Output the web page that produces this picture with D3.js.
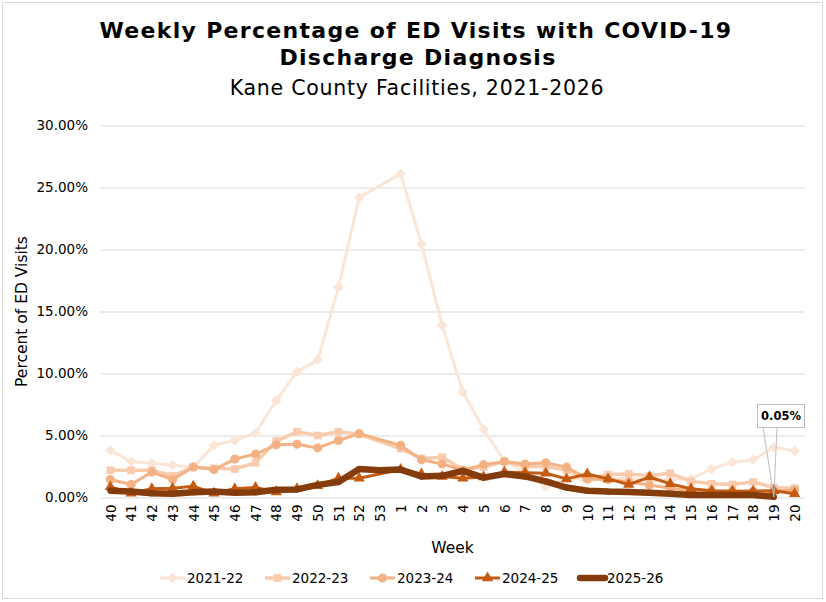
<!DOCTYPE html>
<html>
<head>
<meta charset="utf-8">
<script src="https://cdn.jsdelivr.net/npm/d3@7"></script>
<style>
  html, body { margin: 0; padding: 0; background: #fff; }
  #chart { width: 826px; height: 602px; }
  text { font-family: "DejaVu Sans", Verdana, sans-serif; fill: #000; }
</style>
</head>
<body>
<div id="chart"></div>
<script>
// week labels along the x axis (season runs week 40 -> week 20)
const weeks = ["40","41","42","43","44","45","46","47","48","49","50","51","52","53",
  "1","2","3","4","5","6","7","8","9","10","11","12","13","14","15","16","17","18","19","20"];

const yTicks = [0, 5, 10, 15, 20, 25, 30];

const seasons = ["2021-22", "2022-23", "2023-24", "2024-25", "2025-26"];

// percent of ED visits, null = no value for that week
const s2122 = [3.8, 2.9, 2.77, 2.6, 2.45, 4.22, 4.6, 5.2, 7.82, 10.15, 11.1, 16.95, 24.2, null,
  26.1, 20.45, 13.9, 8.5, 5.5, 2.95, 2.0, 0.86, 1.6, 1.4, 1.5, 1.6, 1.3, 1.5, 1.5, 2.3, 2.85, 3.05, 4.05, 3.75];
const s2223 = [2.2, 2.2, 2.2, 1.75, 2.45, 2.35, 2.3, 2.8, 4.55, 5.3, 5.0, 5.3, 5.1, null,
  3.95, 3.15, 3.25, 2.25, 2.45, 2.9, 2.5, 2.5, 2.2, 1.5, 1.85, 1.9, 1.75, 1.95, 1.3, 1.1, 1.05, 1.25, 0.8, 0.75];
const s2324 = [1.45, 1.05, 2.05, 1.45, 2.45, 2.25, 3.1, 3.5, 4.25, 4.3, 4.0, 4.6, 5.15, null,
  4.2, 3.05, 2.7, 2.2, 2.65, 2.9, 2.7, 2.8, 2.45, 1.5, 1.45, 1.25, 1.0, 0.75, 0.55, 0.5, 0.5, 0.5, 0.55, 0.6];
const s2425 = [0.85, 0.35, 0.7, 0.75, 0.9, 0.35, 0.7, 0.8, 0.45, 0.7, 0.95, 1.55, 1.55, null,
  2.25, 1.9, 1.7, 1.55, 1.65, 2.05, 2.0, 1.95, 1.5, 1.9, 1.5, 1.05, 1.65, 1.1, 0.7, 0.55, 0.5, 0.5, 0.55, 0.3];
const s2526 = [0.55, 0.48, 0.35, 0.3, 0.43, 0.48, 0.38, 0.43, 0.62, 0.65, 1.02, 1.25, 2.3, 2.2,
  2.25, 1.7, 1.75, 2.15, 1.6, 1.9, 1.7, 1.3, 0.8, 0.55, 0.48, 0.45, 0.38, 0.3, 0.2, 0.2, 0.2, 0.2, 0.05, null];

const seriesValues = [s2122, s2223, s2324, s2425, s2526];

const colors = ["#FBE5D6", "#F8CBAD", "#F4B183", "#C55A11", "#843C0C"];
const strokeW = [3, 3.5, 3, 3, 6.5];
const markers = [
  { type: d3.symbolDiamond2, size: 70 },
  { type: d3.symbolSquare2, size: 75 },
  { type: d3.symbolCircle, size: 65 },
  { type: d3.symbolTriangle, size: 55 },
  { type: d3.symbolCircle, size: 30 }
];

const width = 826, height = 602;
const margin = { top: 125.5, right: 21, bottom: 104.5, left: 100 };

const svg = d3.select("#chart").append("svg")
  .attr("width", width).attr("height", height);

// outer chart frame
svg.append("rect")
  .attr("x", 2.5).attr("y", 2.5)
  .attr("width", width - 6).attr("height", height - 6)
  .attr("fill", "#fff").attr("stroke", "#d9d9d9");

const x = d3.scalePoint()
  .domain(weeks)
  .range([margin.left, width - margin.right])
  .padding(0.5);

const y = d3.scaleLinear()
  .domain([0, 30])
  .range([height - margin.bottom, margin.top]);

// titles
svg.append("text")
  .attr("x", 416).attr("y", 38)
  .attr("text-anchor", "middle")
  .style("font-weight", "bold").style("font-size", "22px")
  .style("letter-spacing", "1.3px")
  .text("Weekly Percentage of ED Visits with COVID-19");
svg.append("text")
  .attr("x", 418).attr("y", 65)
  .attr("text-anchor", "middle")
  .style("font-weight", "bold").style("font-size", "22px")
  .style("letter-spacing", "1.3px")
  .text("Discharge Diagnosis");
svg.append("text")
  .attr("x", 417).attr("y", 95)
  .attr("text-anchor", "middle")
  .style("font-size", "20.5px")
  .style("letter-spacing", "0.75px")
  .text("Kane County Facilities, 2021-2026");

// y gridlines + labels
const yAxis = svg.append("g")
  .attr("transform", `translate(${margin.left},0)`)
  .call(d3.axisLeft(y).tickValues(yTicks)
    .tickSize(-(width - margin.left - margin.right))
    .tickPadding(12)
    .tickFormat(d => d.toFixed(2) + "%"));
yAxis.select(".domain").remove();
yAxis.selectAll(".tick line").attr("stroke", "#d9d9d9");
yAxis.selectAll(".tick text")
  .style("font-family", "'DejaVu Sans', sans-serif")
  .style("font-size", "13.5px").attr("fill", "#000");

// x axis labels (rotated)
const xAxis = svg.append("g")
  .attr("transform", `translate(0,${y(0)})`)
  .call(d3.axisBottom(x).tickSize(0).tickPadding(0));
xAxis.select(".domain").remove();
xAxis.selectAll(".tick text")
  .attr("transform", "rotate(-90)")
  .attr("text-anchor", "end")
  .attr("x", -7).attr("y", 0).attr("dy", "0.35em")
  .style("font-family", "'DejaVu Sans', sans-serif")
  .style("font-size", "13.5px").attr("fill", "#000");

// axis titles
svg.append("text")
  .attr("transform", `translate(27,${(y(0) + y(30)) / 2}) rotate(-90)`)
  .attr("text-anchor", "middle")
  .style("font-size", "15.5px")
  .text("Percent of ED Visits");
svg.append("text")
  .attr("x", (margin.left + width - margin.right) / 2).attr("y", 553)
  .attr("text-anchor", "middle")
  .style("font-size", "15.5px")
  .text("Week");

// series lines + markers
const line = d3.line()
  .x(d => x(d.week))
  .y(d => y(d.value));

const plot = svg.append("g");
seasons.forEach((s, i) => {
  const pts = weeks.map((w, j) => ({ week: w, value: seriesValues[i][j] }))
    .filter(d => d.value !== null);
  const g = plot.append("g");
  g.append("path")
    .datum(pts)
    .attr("fill", "none")
    .attr("stroke", colors[i])
    .attr("stroke-width", strokeW[i])
    .attr("stroke-linejoin", "round")
    .attr("d", line);
  g.selectAll("path.mk")
    .data(pts)
    .enter().append("path")
    .attr("class", "mk")
    .attr("transform", d => `translate(${x(d.week)},${y(d.value)})`)
    .attr("d", d3.symbol().type(markers[i].type).size(markers[i].size))
    .attr("fill", colors[i]);
});

// data callout for latest week
const lastIdx = s2526.length - 1 - [...s2526].reverse().findIndex(v => v !== null);
const px = x(weeks[lastIdx]), py = y(s2526[lastIdx]);
const box = { x: 757, y: 404, w: 47, h: 23 };
const callout = svg.append("g");
callout.append("path")
  .attr("d", `M${box.x + 6},${box.y + box.h}L${px},${py}L${box.x + 20},${box.y + box.h}`)
  .attr("fill", "none").attr("stroke", "#bfbfbf").attr("stroke-width", 1);
callout.append("rect")
  .attr("x", box.x + 0.5).attr("y", box.y + 0.5)
  .attr("width", box.w).attr("height", box.h)
  .attr("fill", "#fff").attr("stroke", "#bfbfbf");
callout.append("text")
  .attr("x", box.x + box.w / 2 + 0.5).attr("y", box.y + 16)
  .attr("text-anchor", "middle")
  .style("font-weight", "bold").style("font-size", "11.5px")
  .text(s2526[lastIdx].toFixed(2) + "%");

// legend
const legendX = [160, 265, 370, 475, 580];
const legend = svg.append("g").attr("transform", "translate(0,578)");
seasons.forEach((s, i) => {
  const g = legend.append("g").attr("transform", `translate(${legendX[i]},0)`);
  g.append("line")
    .attr("x1", 0).attr("x2", 25)
    .attr("stroke", colors[i]).attr("stroke-width", strokeW[i])
    .attr("stroke-linecap", i === 4 ? "round" : "butt");
  g.append("path")
    .attr("transform", "translate(12.5,0)")
    .attr("d", d3.symbol().type(markers[i].type).size(markers[i].size))
    .attr("fill", colors[i]);
  g.append("text")
    .attr("x", 27).attr("dy", "0.35em")
    .style("font-size", "13.5px")
    .text(s);
});
</script>
</body>
</html>
